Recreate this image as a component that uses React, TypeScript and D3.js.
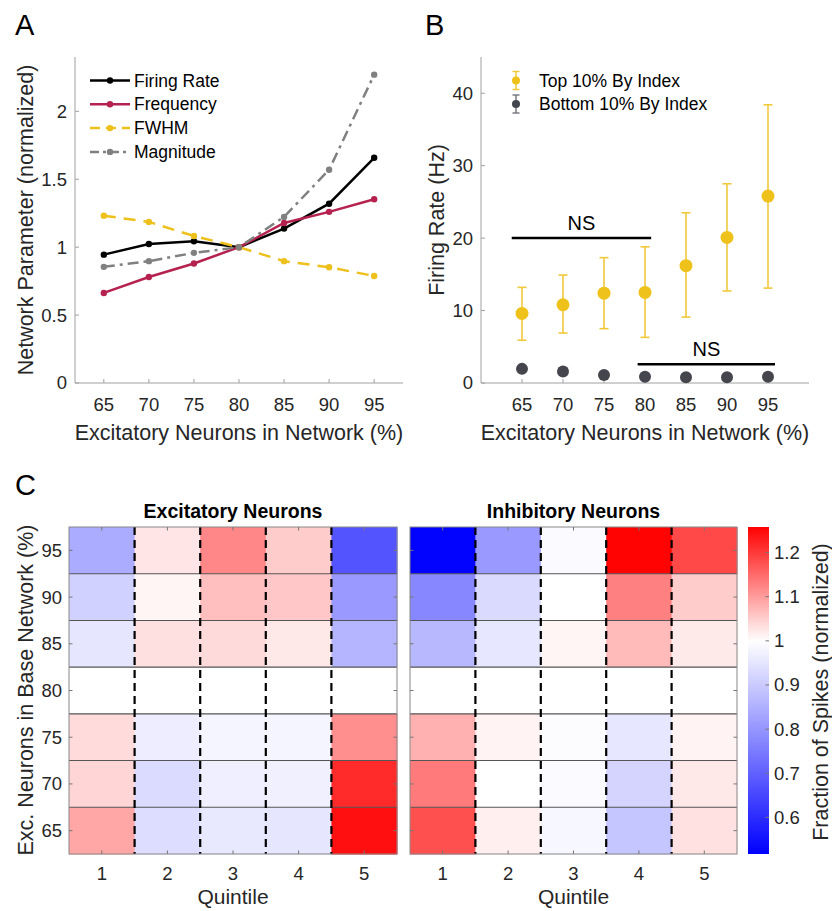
import React from "react";
import * as d3 from "d3";

// ---- data ----
const excPct = [65, 70, 75, 80, 85, 90, 95];

// panel A (normalized to 80%)
const firingRate = [0.945, 1.023, 1.044, 1.0, 1.137, 1.32, 1.658];
const frequency = [0.663, 0.78, 0.88, 1.0, 1.178, 1.26, 1.353];
const fwhm = [1.232, 1.186, 1.082, 1.0, 0.897, 0.852, 0.788];
const magnitude = [0.855, 0.897, 0.958, 1.0, 1.223, 1.57, 2.27];

// panel B
const topMean = [9.6, 10.8, 12.4, 12.5, 16.2, 20.1, 25.8];
const topLow = [5.9, 6.9, 7.5, 6.3, 9.1, 12.7, 13.1];
const topHigh = [13.2, 14.9, 17.3, 18.8, 23.5, 27.5, 38.4];
const botMean = [1.95, 1.6, 1.1, 0.87, 0.8, 0.8, 0.87];
const botErr = [0.75, 0.7, 0.35, 0.2, 0.15, 0.15, 0.2];

// panel C (rows top -> bottom: 95 ... 65, columns quintile 1..5)
const heatRows = ["95", "90", "85", "80", "75", "70", "65"];
const quintiles = ["1", "2", "3", "4", "5"];
const excHeat = [
  [0.84, 1.026, 1.121, 1.052, 0.676],
  [0.913, 1.01, 1.065, 1.057, 0.807],
  [0.952, 1.031, 1.037, 1.023, 0.86],
  [1, 1, 1, 1, 1],
  [1.036, 0.966, 0.981, 0.981, 1.114],
  [1.043, 0.932, 0.969, 0.971, 1.215],
  [1.09, 0.935, 0.957, 0.952, 1.243],
];
const inhHeat = [
  [0.52, 0.807, 0.99, 1.255, 1.185],
  [0.773, 0.93, 1.0, 1.129, 1.052],
  [0.865, 0.955, 1.01, 1.07, 1.021],
  [1, 1, 1, 1, 1],
  [1.08, 1.012, 0.995, 0.955, 1.012],
  [1.134, 1.0, 0.99, 0.918, 1.023],
  [1.177, 1.016, 0.985, 0.89, 1.03],
];
const cbarTicks = [0.6, 0.7, 0.8, 0.9, 1, 1.1, 1.2];

const FONT = "'Liberation Sans', Arial, Helvetica, sans-serif";
const TXT = "#262626";
const AX = "#a0a0a0";

const seriesA = [
  { name: "Firing Rate", values: firingRate, color: "#000000", dash: "none", legDash: "none" },
  { name: "Frequency", values: frequency, color: "#b5224f", dash: "none", legDash: "none" },
  { name: "FWHM", values: fwhm, color: "#edc01c", dash: "12,8", legDash: "10,6" },
  { name: "Magnitude", values: magnitude, color: "#808080", dash: "11,5,3,5", legDash: "9,4,3,4" },
];

const PanelA = () => {
  const x = d3.scaleLinear().domain([61.8, 98.2]).range([75, 403]);
  const y = d3.scaleLinear().domain([0, 2.4]).range([383, 57]);
  const line = d3
    .line<number>()
    .x((d, i) => x(excPct[i]))
    .y((d) => y(d));
  return (
    <g>
      <text x={15} y={35} fontSize={29} fontFamily={FONT}>A</text>
      <line x1={75} x2={75} y1={57} y2={383} stroke={AX} />
      <line x1={75} x2={403} y1={383} y2={383} stroke={AX} />
      {[0, 0.5, 1, 1.5, 2].map((t) => (
        <g key={t}>
          <line x1={75} x2={79} y1={y(t)} y2={y(t)} stroke={AX} />
          <text x={67} y={y(t)} dy="0.35em" textAnchor="end" fontSize={18.5} fill={TXT} fontFamily={FONT}>{t}</text>
        </g>
      ))}
      {excPct.map((t) => (
        <g key={t}>
          <line x1={x(t)} x2={x(t)} y1={383} y2={379} stroke={AX} />
          <text x={x(t)} y={411} textAnchor="middle" fontSize={18.5} fill={TXT} fontFamily={FONT}>{t}</text>
        </g>
      ))}
      <text x={239} y={440} textAnchor="middle" fontSize={21.5} fill={TXT} fontFamily={FONT}>Excitatory Neurons in Network (%)</text>
      <text transform={`translate(33,220) rotate(-90)`} textAnchor="middle" fontSize={21.5} fill={TXT} fontFamily={FONT}>Network Parameter (normalized)</text>
      {seriesA.map((s) => (
        <g key={s.name}>
          <path d={line(s.values) || ""} fill="none" stroke={s.color} strokeWidth={2.5} strokeDasharray={s.dash} />
          {s.values.map((v, i) => (
            <circle key={i} cx={x(excPct[i])} cy={y(v)} r={3.2} fill={s.color} />
          ))}
        </g>
      ))}
      {seriesA.map((s, i) => {
        const ly = 80.5 + i * 23.8;
        return (
          <g key={s.name}>
            <line x1={90} x2={130} y1={ly} y2={ly} stroke={s.color} strokeWidth={2.5} strokeDasharray={s.legDash} />
            <circle cx={110} cy={ly} r={3.2} fill={s.color} />
            <text x={134} y={ly} dy="0.35em" fontSize={17.5} fill="#000" fontFamily={FONT}>{s.name}</text>
          </g>
        );
      })}
    </g>
  );
};

const YEL = "#eec21a";
const YELBAR = "#f0c93a";
const DK = "#45454d";

const PanelB = () => {
  const x = d3.scaleLinear().domain([60, 100]).range([481, 809]);
  const y = d3.scaleLinear().domain([0, 45]).range([383, 57]);
  const cap = 4.5;
  return (
    <g>
      <text x={425} y={35} fontSize={29} fontFamily={FONT}>B</text>
      <line x1={481} x2={481} y1={57} y2={383} stroke={AX} />
      <line x1={481} x2={809} y1={383} y2={383} stroke={AX} />
      {[0, 10, 20, 30, 40].map((t) => (
        <g key={t}>
          <line x1={481} x2={485} y1={y(t)} y2={y(t)} stroke={AX} />
          <text x={473} y={y(t)} dy="0.35em" textAnchor="end" fontSize={18.5} fill={TXT} fontFamily={FONT}>{t}</text>
        </g>
      ))}
      {excPct.map((t) => (
        <g key={t}>
          <line x1={x(t)} x2={x(t)} y1={383} y2={379} stroke={AX} />
          <text x={x(t)} y={411} textAnchor="middle" fontSize={18.5} fill={TXT} fontFamily={FONT}>{t}</text>
        </g>
      ))}
      <text x={645} y={440} textAnchor="middle" fontSize={21.5} fill={TXT} fontFamily={FONT}>Excitatory Neurons in Network (%)</text>
      <text transform={`translate(444,220) rotate(-90)`} textAnchor="middle" fontSize={21.5} fill={TXT} fontFamily={FONT}>Firing Rate (Hz)</text>
      {/* NS bars */}
      <line x1={x(63.75)} x2={x(80.75)} y1={y(20)} y2={y(20)} stroke="#000" strokeWidth={2.5} />
      <text x={x(72.25)} y={y(20) - 8} textAnchor="middle" fontSize={20} fontFamily={FONT}>NS</text>
      <line x1={x(79.1)} x2={x(95.85)} y1={y(2.6)} y2={y(2.6)} stroke="#000" strokeWidth={2.5} />
      <text x={x(87.5)} y={y(2.6) - 8} textAnchor="middle" fontSize={20} fontFamily={FONT}>NS</text>
      {excPct.map((t, i) => (
        <g key={"b" + t}>
          <line x1={x(t)} x2={x(t)} y1={y(botMean[i] - botErr[i])} y2={y(botMean[i] + botErr[i])} stroke="#8a8a90" strokeWidth={1.5} />
          <circle cx={x(t)} cy={y(botMean[i])} r={6} fill={DK} />
        </g>
      ))}
      {excPct.map((t, i) => (
        <g key={"t" + t}>
          <line x1={x(t)} x2={x(t)} y1={y(topLow[i])} y2={y(topHigh[i])} stroke={YELBAR} strokeWidth={1.6} />
          <line x1={x(t) - cap} x2={x(t) + cap} y1={y(topLow[i])} y2={y(topLow[i])} stroke={YELBAR} strokeWidth={1.6} />
          <line x1={x(t) - cap} x2={x(t) + cap} y1={y(topHigh[i])} y2={y(topHigh[i])} stroke={YELBAR} strokeWidth={1.6} />
          <circle cx={x(t)} cy={y(topMean[i])} r={6.5} fill={YEL} />
        </g>
      ))}
      {[
        { label: "Top 10% By Index", c: YEL, cb: YELBAR },
        { label: "Bottom 10% By Index", c: DK, cb: "#7a7a80" },
      ].map((l, i) => {
        const ly = 80.5 + i * 23.5;
        return (
          <g key={l.label}>
            <line x1={516} x2={516} y1={ly - 9} y2={ly + 9} stroke={l.cb} strokeWidth={1.5} />
            <line x1={512.5} x2={519.5} y1={ly - 9} y2={ly - 9} stroke={l.cb} strokeWidth={1.5} />
            <line x1={512.5} x2={519.5} y1={ly + 9} y2={ly + 9} stroke={l.cb} strokeWidth={1.5} />
            <circle cx={516} cy={ly} r={4} fill={l.c} />
            <text x={539} y={ly} dy="0.35em" fontSize={17.5} fill="#000" fontFamily={FONT}>{l.label}</text>
          </g>
        );
      })}
    </g>
  );
};

const color = d3
  .scaleLinear<string>()
  .domain([0.517, 1, 1.258])
  .range(["#0000ff", "#ffffff", "#ff0000"])
  .clamp(true);

const HTOP = 527;
const HBOT = 854;

const Heatmap = ({ x0, x1, data, title, showY }: { x0: number; x1: number; data: number[][]; title: string; showY: boolean }) => {
  const x = d3.scaleBand().domain(quintiles).range([x0, x1]);
  const y = d3.scaleBand().domain(heatRows).range([HTOP, HBOT]);
  const bw = x.bandwidth();
  const bh = y.bandwidth();
  return (
    <g>
      <text x={(x0 + x1) / 2} y={HTOP - 9} textAnchor="middle" fontSize={19.5} fontWeight="bold" fontFamily={FONT}>{title}</text>
      {heatRows.map((r, i) =>
        quintiles.map((q, j) => (
          <rect key={r + q} x={x(q)} y={y(r)} width={bw + 0.5} height={bh + 0.5} fill={color(data[i][j])} />
        ))
      )}
      {heatRows.slice(1).map((r) => (
        <line key={"h" + r} x1={x0} x2={x1} y1={y(r)} y2={y(r)} stroke="#555" strokeWidth={1.1} />
      ))}
      {quintiles.slice(1).map((q) => (
        <line key={"v" + q} x1={x(q)} x2={x(q)} y1={HTOP} y2={HBOT} stroke="#000" strokeWidth={2.2} strokeDasharray="8,5" />
      ))}
      <rect x={x0} y={HTOP} width={x1 - x0} height={HBOT - HTOP} fill="none" stroke="#888" strokeWidth={1} />
      {quintiles.map((q) => {
        const cx = (x(q) || 0) + bw / 2;
        return (
          <g key={"t" + q}>
            <line x1={cx} x2={cx} y1={HTOP} y2={HTOP + 3.5} stroke="#777" />
            <line x1={cx} x2={cx} y1={HBOT} y2={HBOT - 3.5} stroke="#777" />
            <text x={cx} y={880} textAnchor="middle" fontSize={18.5} fill={TXT} fontFamily={FONT}>{q}</text>
          </g>
        );
      })}
      {heatRows.map((r) => {
        const cy = (y(r) || 0) + bh / 2;
        return (
          <g key={"r" + r}>
            <line x1={x0} x2={x0 + 3.5} y1={cy} y2={cy} stroke="#777" />
            <line x1={x1} x2={x1 - 3.5} y1={cy} y2={cy} stroke="#777" />
            {showY && (
              <text x={x0 - 7} y={cy} dy="0.35em" textAnchor="end" fontSize={18.5} fill={TXT} fontFamily={FONT}>{r}</text>
            )}
          </g>
        );
      })}
      <text x={(x0 + x1) / 2} y={904} textAnchor="middle" fontSize={21} fill={TXT} fontFamily={FONT}>Quintile</text>
    </g>
  );
};

const Colorbar = () => {
  const cx0 = 748;
  const cx1 = 769;
  const cy = d3.scaleLinear().domain([0.517, 1.258]).range([HBOT, HTOP]);
  const stops = d3.range(0, 1.0001, 0.05).map((t) => 0.517 + t * (1.258 - 0.517));
  return (
    <g>
      <defs>
        <linearGradient id="cbar" x1="0" y1="1" x2="0" y2="0">
          {stops.map((v, i) => (
            <stop key={i} offset={`${(i / (stops.length - 1)) * 100}%`} stopColor={color(v)} />
          ))}
        </linearGradient>
      </defs>
      <rect x={cx0} y={HTOP} width={cx1 - cx0} height={HBOT - HTOP} fill="url(#cbar)" />
      {cbarTicks.map((t) => (
        <g key={t}>
          <line x1={cx1} x2={cx1 - 3.5} y1={cy(t)} y2={cy(t)} stroke="#777" />
          <text x={774} y={cy(t)} dy="0.35em" fontSize={18.5} fill={TXT} fontFamily={FONT}>{t}</text>
        </g>
      ))}
      <text transform={`translate(828,692) rotate(-90)`} textAnchor="middle" fontSize={21.5} fill={TXT} fontFamily={FONT}>Fraction of Spikes (normalized)</text>
    </g>
  );
};

export default function App() {
  return (
    <svg width={832} height={911} style={{ position: "absolute", left: 0, top: 0, background: "#fff" }}>
      <rect width={832} height={911} fill="#fff" />
      <PanelA />
      <PanelB />
      <text x={15} y={495} fontSize={29} fontFamily={FONT}>C</text>
      <text transform={`translate(33,690) rotate(-90)`} textAnchor="middle" fontSize={21.5} fill={TXT} fontFamily={FONT}>Exc. Neurons in Base Network (%)</text>
      <Heatmap x0={69} x1={397} data={excHeat} title="Excitatory Neurons" showY={true} />
      <Heatmap x0={410} x1={737} data={inhHeat} title="Inhibitory Neurons" showY={false} />
      <Colorbar />
    </svg>
  );
}
